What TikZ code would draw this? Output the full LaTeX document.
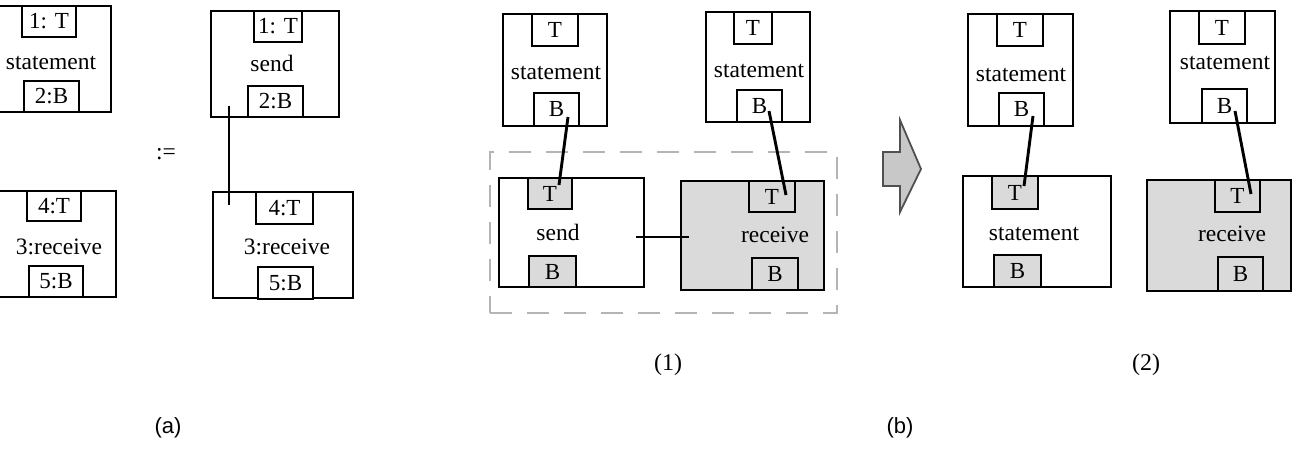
\documentclass[tikz,border=0pt]{standalone}
\usepackage{fontspec}
\setmainfont{Liberation Serif}
\newfontfamily\labelsans{Liberation Sans}
\definecolor{boxgray}{HTML}{DADADA}
\definecolor{dashgray}{HTML}{B4B4B4}
\definecolor{arrowfill}{HTML}{C8C8C8}
\definecolor{arrowline}{HTML}{505050}
\begin{document}
\begin{tikzpicture}[x=1pt,y=-1pt,
  outer/.style={draw, line width=2.9pt, inner sep=0pt, fill=white},
  graybox/.style={outer, fill=boxgray},
  port/.style={draw, line width=2.9pt, inner sep=0pt, fill=white,
    font=\fontsize{23}{26}\selectfont},
  grayport/.style={port, fill=boxgray},
  txt/.style={inner sep=0pt, font=\fontsize{23.5}{27}\selectfont},
  conn/.style={line width=2.9pt},
  capserif/.style={inner sep=0pt, font=\fontsize{24}{28}\selectfont},
  capsans/.style={inner sep=0pt, font=\labelsans\fontsize{22}{25}\selectfont},
  dashbox/.style={draw=dashgray, line width=2.2pt, dash pattern=on 22pt off 15pt},
  blockarrow/.style={fill=arrowfill, draw=arrowline, line width=1.8pt, line join=miter}
]
\useasboundingbox (0,0) rectangle (1297,455);
\clip (0,0) rectangle (1297,455);

% ---------- (a) ----------
\node[outer, minimum width=123pt, minimum height=106pt] (a1) at (49.5,59) {};
\node[port, minimum width=54pt, minimum height=31pt] (a1t) at (49,21.5) {1: T};
\node[port, minimum width=55pt, minimum height=31pt] (a1b) at (51.5,96.5) {2:B};
\node[txt] (a1l) at (51,63) {statement};

\node[outer, minimum width=122pt, minimum height=106pt] (a2) at (55,244) {};
\node[port, minimum width=54pt, minimum height=30pt] (a2t) at (54,206) {4:T};
\node[port, minimum width=54pt, minimum height=31pt] (a2b) at (56,281.5) {5:B};
\node[txt] (a2l) at (59,247) {3:receive};

\node[txt] (defeq) at (166,154) {:=};

\node[outer, minimum width=128pt, minimum height=106pt] (a3) at (275,64) {};
\node[port, minimum width=48pt, minimum height=31pt] (a3t) at (278,26.5) {1: T};
\node[port, minimum width=55pt, minimum height=31pt] (a3b) at (275.5,101.5) {2:B};
\node[txt] (a3l) at (272,63) {send};

\node[outer, minimum width=140pt, minimum height=106pt] (a4) at (283,245) {};
\node[port, minimum width=57pt, minimum height=32pt] (a4t) at (284.5,208) {4:T};
\node[port, minimum width=55pt, minimum height=32pt] (a4b) at (285.5,283) {5:B};
\node[txt] (a4l) at (287,247) {3:receive};

\coordinate (a3c) at (229,106);
\coordinate (a4c) at (229,205);
\draw[conn] (a3c) -- (a4c);

\node[capsans] (capa) at (168,428) {(a)};

% ---------- (b)(1) ----------
\node[outer, minimum width=104pt, minimum height=112pt] (b1) at (555,70) {};
\node[port, minimum width=46pt, minimum height=32pt] (b1t) at (555,30) {T};
\node[port, minimum width=45pt, minimum height=33pt] (b1b) at (556.5,109.5) {B};
\node[txt] (b1l) at (556,73) {statement};

\node[outer, minimum width=104pt, minimum height=110pt] (b2) at (758,67) {};
\node[port, minimum width=38pt, minimum height=32pt] (b2t) at (753,28) {T};
\node[port, minimum width=45pt, minimum height=32pt] (b2b) at (759.5,106) {B};
\node[txt] (b2l) at (759,71) {statement};

\node[dashbox, minimum width=347pt, minimum height=161pt, inner sep=0pt] (group) at (663.5,232.5) {};

\node[outer, minimum width=145pt, minimum height=109pt] (snd) at (571.5,232.5) {};
\node[grayport, minimum width=44pt, minimum height=31pt] (sndt) at (550,193.5) {T};
\node[grayport, minimum width=47pt, minimum height=31pt] (sndb) at (552.5,271.5) {B};
\node[txt] (sndl) at (558,232) {send};

\node[graybox, minimum width=143pt, minimum height=109pt] (rcv) at (752.5,235.5) {};
\node[grayport, minimum width=46pt, minimum height=31pt] (rcvt) at (772,196.5) {T};
\node[grayport, minimum width=46pt, minimum height=32pt] (rcvb) at (775,274) {B};
\node[txt] (rcvl) at (775,235) {receive};

\coordinate (sndc) at (636,237);
\coordinate (rcvc) at (689,237);
\draw[conn] (sndc) -- (rcvc);
\coordinate (b1bc) at (568,117);
\coordinate (sndtc) at (559,185);
\draw[conn] (b1bc) -- (sndtc);
\coordinate (b2bc) at (769,111);
\coordinate (rcvtc) at (786,195);
\draw[conn] (b2bc) -- (rcvtc);

\node[capserif] (cap1) at (668,365) {(1)};

% ---------- arrow ----------
\draw[blockarrow] (883,152) -- (900,152) -- (900,120) -- (921,169) -- (900,212) -- (900,186) -- (883,186) -- cycle;

% ---------- (b)(2) ----------
\node[outer, minimum width=105pt, minimum height=112pt] (c1) at (1020.5,70) {};
\node[port, minimum width=46pt, minimum height=32pt] (c1t) at (1020,30) {T};
\node[port, minimum width=45pt, minimum height=33pt] (c1b) at (1021.5,109.5) {B};
\node[txt] (c1l) at (1021,75) {statement};

\node[outer, minimum width=105pt, minimum height=112pt] (c2) at (1222.5,67) {};
\node[port, minimum width=46pt, minimum height=33pt] (c2t) at (1222,27.5) {T};
\node[port, minimum width=45pt, minimum height=34pt] (c2b) at (1224.5,106) {B};
\node[txt] (c2l) at (1225,63) {statement};

\node[outer, minimum width=148pt, minimum height=111pt] (c3) at (1037,231.5) {};
\node[grayport, minimum width=46pt, minimum height=33pt] (c3t) at (1015,192.5) {T};
\node[grayport, minimum width=47pt, minimum height=32pt] (c3b) at (1017.5,271) {B};
\node[txt] (c3l) at (1034,234) {statement};

\node[graybox, minimum width=144pt, minimum height=111pt] (c4) at (1219,235.5) {};
\node[grayport, minimum width=45pt, minimum height=32pt] (c4t) at (1237.5,196) {T};
\node[grayport, minimum width=45pt, minimum height=34pt] (c4b) at (1240.5,274) {B};
\node[txt] (c4l) at (1232,234) {receive};

\coordinate (c1bc) at (1033,116);
\coordinate (c3tc) at (1024,186);
\draw[conn] (c1bc) -- (c3tc);
\coordinate (c2bc) at (1235,111);
\coordinate (c4tc) at (1251,194);
\draw[conn] (c2bc) -- (c4tc);

\node[capserif] (cap2) at (1146,365) {(2)};
\node[capsans] (capb) at (900,428) {(b)};
\end{tikzpicture}
\end{document}
